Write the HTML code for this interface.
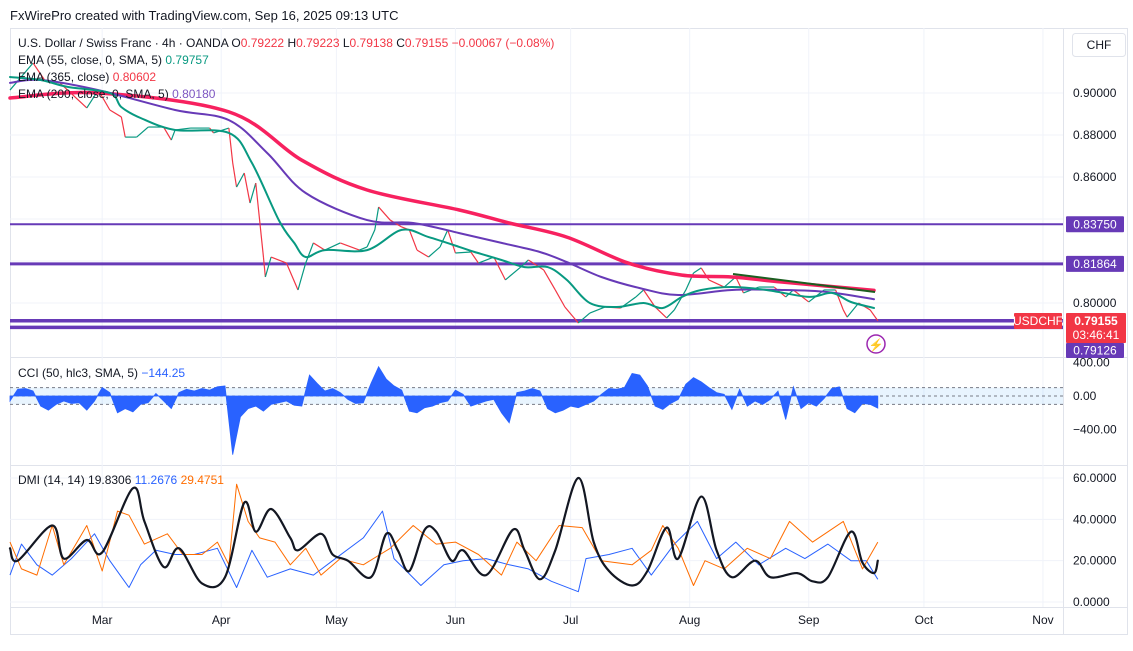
<!DOCTYPE html>
<html><head><meta charset="utf-8"><style>
body{margin:0;background:#fff;width:1133px;height:651px;overflow:hidden;font-family:"Liberation Sans",sans-serif}
svg{display:block}
text{font-family:"Liberation Sans",sans-serif}
</style></head><body>
<svg id="c" width="1133" height="651" viewBox="0 0 1133 651">
<rect x="0" y="0" width="1133" height="651" fill="#fff"/>
<text x="10" y="20" font-size="13" fill="#131722">FxWirePro created with TradingView.com, Sep 16, 2025 09:13 UTC</text>
<rect x="10.5" y="28.5" width="1117" height="606" fill="none" stroke="#e0e3eb"/>
<line x1="1063.5" y1="28" x2="1063.5" y2="634" stroke="#e0e3eb"/>
<line x1="10" y1="357.5" x2="1127" y2="357.5" stroke="#e0e3eb"/>
<line x1="10" y1="465.5" x2="1127" y2="465.5" stroke="#e0e3eb"/>
<line x1="10" y1="607.5" x2="1127" y2="607.5" stroke="#e0e3eb"/>
<g id="grid"></g>
<g id="main"></g>
<g id="cci"></g>
<g id="dmi"></g>
<g id="axes"></g>
<rect x="1072.5" y="33.5" width="53" height="23" rx="3" fill="#fff" stroke="#e0e3eb"/>
<text x="1099" y="49" font-size="12" text-anchor="middle" fill="#131722">CHF</text>
<g font-size="12">
<text x="18" y="47" fill="#131722">U.S. Dollar / Swiss Franc · 4h · OANDA  O<tspan fill="#f23645">0.79222</tspan>  H<tspan fill="#f23645">0.79223</tspan>  L<tspan fill="#f23645">0.79138</tspan>  C<tspan fill="#f23645">0.79155</tspan>  <tspan fill="#f23645">−0.00067 (−0.08%)</tspan></text>
<text x="18" y="64" fill="#131722">EMA (55, close, 0, SMA, 5)  <tspan fill="#089981">0.79757</tspan></text>
<text x="18" y="81" fill="#131722">EMA (365, close)  <tspan fill="#f23645">0.80602</tspan></text>
<text x="18" y="98" fill="#131722">EMA (200, close, 0, SMA, 5)  <tspan fill="#7e57c2">0.80180</tspan></text>
<text x="18" y="377" fill="#131722">CCI (50, hlc3, SMA, 5)  <tspan fill="#2962ff">−144.25</tspan></text>
<text x="18" y="484" fill="#131722">DMI (14, 14)  19.8306  <tspan fill="#2962ff">11.2676</tspan>  <tspan fill="#ff6d00">29.4751</tspan></text>
</g>
</svg>
<script>
// ---- data ----
const priceDays=[0,6,9,13,20,23,26,29,30,33,36,40,42,43,47,52,53,57,58,59,61,62.5,64,66,66.5,68,72,75,77,79,82,86,91,93,95,96,99,102,104,106,109,112,114,116,120,122,126,129,133,135,139,142,144.5,148,151,155,159,163,165,168,171,173,176,178,180,182,186,189,191,195,199,202,204,208,212,215,217,218,221,224,226];
const priceClose=[0.9014,0.9143,0.9062,0.9048,0.8929,0.9014,0.8919,0.8886,0.879,0.879,0.8838,0.8838,0.8776,0.8824,0.8833,0.8833,0.881,0.8833,0.8667,0.8552,0.8619,0.8476,0.8571,0.8219,0.8124,0.8219,0.819,0.8062,0.819,0.8286,0.8252,0.8286,0.8252,0.8267,0.8348,0.8457,0.8395,0.8362,0.8348,0.8252,0.8219,0.8267,0.8348,0.8238,0.8243,0.819,0.8219,0.811,0.8171,0.8205,0.8157,0.8062,0.7981,0.7905,0.7952,0.7981,0.7976,0.8029,0.8062,0.7981,0.7929,0.7967,0.8062,0.8143,0.8167,0.811,0.8076,0.8124,0.8048,0.8076,0.8076,0.8029,0.8062,0.8005,0.8062,0.8062,0.7967,0.7933,0.8,0.7967,0.79155];
const ema365Days=[0,23,57,76,93,117,130,145,161,175,188,201,225];
const ema365=[0.8976,0.9,0.891,0.868,0.8538,0.8443,0.8381,0.8314,0.819,0.8133,0.8124,0.81,0.8060];
const ema200Days=[0,8,23,43,57,67,77,93,105,117,128,138,145,154,164,174,188,201,213,225];
const ema200=[0.9048,0.9062,0.9014,0.8919,0.8871,0.8714,0.8524,0.8395,0.8381,0.8333,0.8286,0.8243,0.8195,0.8124,0.8071,0.8038,0.8062,0.8062,0.8052,0.8018];
const ema55Days=[0,8,15,26,29,34,43,57,63,70,74,77,82,93,102,109,117,121,128,134,140,145,151,158,165,170,175,180,188,197,208,214,219,225];
const ema55=[0.9076,0.9062,0.9029,0.9,0.8933,0.8881,0.8824,0.881,0.8667,0.8395,0.8286,0.8219,0.8252,0.8252,0.8348,0.8314,0.8267,0.8243,0.8205,0.8171,0.8171,0.811,0.8,0.7981,0.8,0.7976,0.8029,0.8062,0.8076,0.8062,0.8029,0.8048,0.8005,0.7976];
const levels=[0.8375,0.81864,0.79155,0.79126];
const priceTicks=[0.90,0.88,0.86,0.84,0.82,0.80];
const cciValues=[-60,80,90,60,-120,-170,-100,-60,-90,-80,-170,-60,100,40,-200,-150,-190,-100,-80,30,-60,-150,40,80,60,90,70,110,120,-700,-250,-150,-120,-180,-100,-80,-60,-110,-120,250,150,60,90,40,-40,-90,-80,150,350,200,120,70,-180,-200,-140,-120,-80,-60,70,20,-120,-90,-60,-40,-200,-320,40,60,90,60,-150,-200,-170,-120,-140,-100,-60,20,90,80,100,270,250,120,-120,-160,-90,-40,140,220,170,100,40,20,-160,80,-120,-60,-100,-40,60,-280,110,-150,-80,-120,-30,90,110,-150,-200,-90,-100,-144];
const cciTicks=[400,0,-400];
const adxDays=[0,2,11,14,20,24,32,35,40,44,50,56,61,64,68,73,75,81,84,88,94,98,101,104,108,111,115,118,124,131,134,138,142,148,152,156,162,166,171,174,180,184,188,194,198,205,209,213,219,222,225,226];
const adx=[26,20,37,21,30,24,55,39,17,26,9,12,48,34,45,31,25,33,23,20,12,33,25,15,35,34,20,25,13,35,25,11,25,60,29,15,8,15,36,21,51,25,12,20,12,14,10,12,34,19,14,20];
const plusDays=[0,3,7,11,16,22,26,31,34,38,43,48,54,59,63,67,73,79,84,92,97,100,107,113,118,124,130,135,141,148,150,156,162,167,173,179,184,189,195,202,207,213,219,223,226];
const plusDI=[13,28,18,13,21,33,20,7,18,25,23,23,26,7,25,12,16,13,20,31,44,21,8,18,20,21,18,16,10,5,21,23,26,13,28,39,21,29,18,26,21,28,20,20,11];
const minusDays=[0,3,7,11,14,20,24,28,31,35,41,45,50,54,57,59,62,65,69,73,77,81,86,92,99,105,111,116,122,128,132,137,143,149,154,162,167,170,174,178,181,186,192,198,203,209,217,222,226];
const minusDI=[29,16,13,37,18,37,15,44,42,28,33,23,23,29,18,57,39,31,29,18,26,13,21,18,26,37,28,29,23,13,29,20,37,36,20,18,25,37,26,8,20,16,26,21,39,29,39,16,29];
const dmiTicks=[60,40,20,0];
const months=['Mar','Apr','May','Jun','Jul','Aug','Sep','Oct','Nov'];
const monthDays=[24,55,85,116,146,177,208,238,269];

// ---- scales ----
const NS='http://www.w3.org/2000/svg';
const xD=d=>10+d*3.84;
const yP=p=>93+(0.90-p)*2100;
const yC=v=>396-v*0.0838;
const yM=v=>602-v*2.067;
function mk(tag,attrs,parent){const e=document.createElementNS(NS,tag);for(const k in attrs)e.setAttribute(k,attrs[k]);parent.appendChild(e);return e;}
const G=id=>document.getElementById(id);

// grid
months.forEach((m,i)=>{
  const l=mk('line',{x1:xD(monthDays[i]),x2:xD(monthDays[i]),y1:28,y2:607,stroke:'#f0f3fa'},G('grid'));
  
  
  const t=mk('text',{x:xD(monthDays[i]),y:624,'font-size':12,'text-anchor':'middle',fill:'#131722'},G('axes'));
  t.textContent=m;
  
  
});
priceTicks.forEach(p=>{
  const l=mk('line',{x1:10,x2:1063,y1:yP(p),y2:yP(p),stroke:'#f0f3fa'},G('grid'));
  
  
  const t=mk('text',{x:1073,y:yP(p)+4,'font-size':12,fill:'#131722'},G('axes'));
  t.textContent=p.toFixed(5);
  
  
});
cciTicks.forEach(v=>{
  const t=mk('text',{x:1073,y:yC(v)+4,'font-size':12,fill:'#131722'},G('axes'));
  t.textContent=(v<0?'−':'')+Math.abs(v).toFixed(2);
  
  
});
dmiTicks.forEach(v=>{
  const l=mk('line',{x1:10,x2:1063,y1:yM(v),y2:yM(v),stroke:'#f0f3fa'},G('grid'));
  
  
  const t=mk('text',{x:1073,y:yM(v)+4,'font-size':12,fill:'#131722'},G('axes'));
  t.textContent=v.toFixed(4);
  
  
});

// main: horizontal levels
const lw=[2,3,3.5,3.5];
levels.forEach((p,i)=>{
  const l=mk('line',{x1:10,x2:1063,y1:yP(p)+(i==3?6:0),y2:yP(p)+(i==3?6:0),stroke:'#673ab7','stroke-width':lw[i]},G('main'));
  
  
});
function line(days,vals,yf,color,w,name,parent){
  const pts=days.map((d,i)=>xD(d).toFixed(1)+','+yf(vals[i]).toFixed(1)).join(' ');
  const e=mk('polyline',{points:pts,fill:'none',stroke:color,'stroke-width':w,'stroke-linejoin':'round'},parent);
  
  
  return e;
}
function smooth(days,vals,yf,color,w,name,parent){
  const P=days.map((d,i)=>[xD(d),yf(vals[i])]);
  let d='M'+P[0][0].toFixed(1)+','+P[0][1].toFixed(1);
  for(let i=0;i<P.length-1;i++){
    const p0=P[Math.max(0,i-1)],p1=P[i],p2=P[i+1],p3=P[Math.min(P.length-1,i+2)];
    const c1=[p1[0]+(p2[0]-p0[0])/6,p1[1]+(p2[1]-p0[1])/6];
    const c2=[p2[0]-(p3[0]-p1[0])/6,p2[1]-(p3[1]-p1[1])/6];
    d+=' C'+c1.map(v=>v.toFixed(1)).join(',')+' '+c2.map(v=>v.toFixed(1)).join(',')+' '+p2[0].toFixed(1)+','+p2[1].toFixed(1);
  }
  const e=mk('path',{d:d,fill:'none',stroke:color,'stroke-width':w,'stroke-linecap':'round'},parent);
  
  
  return e;
}
// price segments
priceClose.forEach((c,i)=>{
  if(i==0)return;
  const o=priceClose[i-1];
  const s=mk('line',{x1:xD(priceDays[i-1]),y1:yP(o),x2:xD(priceDays[i]),y2:yP(c),stroke:c>=o?'#089981':'#f23645','stroke-width':1.2},G('main'));
  
  
});
smooth(ema365Days,ema365,yP,'#f7215f',3.5,'ema365-line',G('main'));
smooth(ema200Days,ema200,yP,'#673ab7',2,'ema200-line',G('main'));
smooth(ema55Days,ema55,yP,'#089981',2,'ema55-line',G('main'));
const tl=mk('line',{x1:733,y1:274,x2:875,y2:292,stroke:'#1b5e20','stroke-width':2},G('main'));


// price labels
function box(x,y,w,h,fill,txt,name,col){
  const r=mk('rect',{x:x,y:y,width:w,height:h,fill:fill,rx:1},G('axes'));
  
  
  const t=mk('text',{x:x+w/2,y:y+h/2+4,'font-size':12,'text-anchor':'middle',fill:col||'#fff'},G('axes'));
  t.textContent=txt;
  
  
}
mk('rect',{x:1064,y:212,width:62,height:20,fill:'#fff'},G('axes'));
mk('rect',{x:1064,y:250,width:62,height:24,fill:'#fff'},G('axes'));
box(1066,yP(levels[0])-8,58,16,'#673ab7',levels[0].toFixed(5),'level-label-1');
box(1066,yP(levels[1])-8,58,16,'#673ab7',levels[1].toFixed(5),'level-label-2');
box(1066,343,58,15,'#673ab7',levels[3].toFixed(5),'level-label-4');
box(1066,313,60,30,'#f23645','','last-price-label');
const lp=mk('text',{x:1096,y:325,'font-size':12,'text-anchor':'middle',fill:'#fff','font-weight':'bold'},G('axes'));
lp.textContent=priceClose[priceClose.length-1].toFixed(5);


const cd=mk('text',{x:1096,y:339,'font-size':12,'text-anchor':'middle',fill:'#fff'},G('axes'));
cd.textContent='03:46:41';


box(1014,313,48,16,'#f23645','USDCHF','symbol-tag');
const ci=mk('circle',{cx:876,cy:344,r:9,fill:'#fff',stroke:'#9c27b0','stroke-width':1.5},G('main'));


const bolt=mk('text',{x:876,y:349,'font-size':12,'text-anchor':'middle',fill:'#9c27b0'},G('main'));
bolt.textContent='⚡';



// CCI
const band=mk('rect',{x:10,y:yC(100),width:1053,height:yC(-100)-yC(100),fill:'#2196f3','fill-opacity':0.1},G('cci'));


[100,0,-100].forEach(v=>{
  const l=mk('line',{x1:10,x2:1063,y1:yC(v),y2:yC(v),stroke:'#787b86','stroke-dasharray':'3,3','stroke-width':1},G('cci'));
  
  
});
let d='M'+xD(0)+','+yC(0);
cciValues.forEach((v,i)=>{d+=' L'+xD(i*2).toFixed(1)+','+yC(v).toFixed(1);});
d+=' L'+xD((cciValues.length-1)*2).toFixed(1)+','+yC(0)+' Z';
const area=mk('path',{d:d,fill:'#2962ff',stroke:'#2962ff','stroke-width':0.8},G('cci'));



// DMI
line(plusDays,plusDI,yM,'#2962ff',1,'plus-di-line',G('dmi'));
line(minusDays,minusDI,yM,'#ff6d00',1,'minus-di-line',G('dmi'));
smooth(adxDays,adx,yM,'#131722',2.2,'adx-line',G('dmi'));
</script>
</body></html>
